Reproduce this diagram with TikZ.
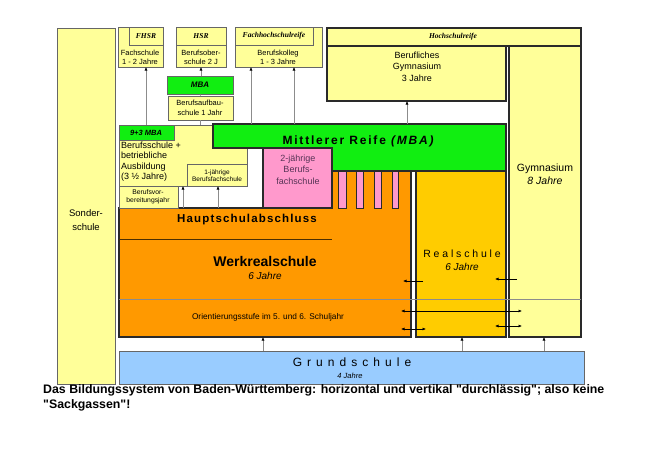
\documentclass[tikz,border=0pt]{standalone}
\usepackage{fontspec}
\setmainfont{Liberation Sans}
\newfontfamily\hdrfont{Liberation Serif}
\newfontfamily\capfont{Liberation Sans}[Ligatures=ResetAll]
\usetikzlibrary{arrows.meta}
\definecolor{lyel}{HTML}{FFFF99}
\definecolor{mgreen}{HTML}{11EE11}
\definecolor{mpink}{HTML}{FF99CC}
\definecolor{morange}{HTML}{FF9900}
\definecolor{rgold}{HTML}{FFCC00}
\definecolor{gblue}{HTML}{99CCFF}
\definecolor{bord}{HTML}{2A2A2A}
\definecolor{thinb}{HTML}{666666}
\definecolor{pinktext}{HTML}{553355}
\newcommand\mybox[6]{\node[#2, minimum width={#5-#3}, minimum height={#6-#4}] (#1) at (#3,#4) {};}
\begin{document}
\begin{tikzpicture}[x=1pt,y=-1pt,
  bx/.style={draw=thinb, line width=0.6pt, fill=lyel, inner sep=0pt, outer sep=0pt, anchor=north west},
  hbx/.style={bx, draw=bord, line width=1.1pt},
  inv/.style={inner sep=0pt, outer sep=0pt, anchor=north west},
  txt/.style={inner sep=0pt, align=center, text=black},
  garr/.style={draw=black!45, line width=0.6pt, -{Latex[length=3.5pt,width=3pt,color=black]}},
  harr/.style={draw=black, line width=0.6pt, -{Latex[length=3.5pt,width=3pt]}},
  darr/.style={draw=black, line width=0.6pt, {Latex[length=3.5pt,width=3pt]}-{Latex[length=3.5pt,width=3pt]}},
  hdr/.style={txt, font=\hdrfont\bfseries\itshape\fontsize{7.5}{9}\selectfont}
]
\useasboundingbox[fill=white] (0,0) rectangle (649,459);

% Sonderschule
\mybox{son}{bx}{57}{28}{115}{384}
% top boxes
\mybox{fhs}{bx}{118}{27}{163}{67}
\mybox{fhsh}{bx}{129}{27}{163}{45}
\mybox{hsr}{bx}{176}{27}{226}{67}
\mybox{hsrh}{bx}{176}{27}{226}{45}
\mybox{bk}{bx}{235}{27}{322}{67}
\mybox{bkh}{bx}{235}{27}{313}{45}
\mybox{mba}{bx, fill=mgreen}{167}{76}{233}{94}
\mybox{bas}{bx}{168}{96}{233}{120}
% Berufsschule
\mybox{bs}{bx}{119}{125}{247}{186}
\mybox{bsh}{bx, fill=mgreen}{119}{125}{174}{140}
% Mittlere Reife (green L shape)
\filldraw[fill=mgreen, draw=bord, line width=1.1pt] (213,124) -- (506,124) -- (506,171) -- (332,171) -- (332,148) -- (213,148) -- cycle;
\node[inv, minimum width=293, minimum height=47] (mr) at (213,124) {};
% Werkrealschule (orange)
\filldraw[fill=morange, draw=bord, line width=1.3pt] (119,208) -- (332,208) -- (332,171) -- (411,171) -- (411,337) -- (119,337) -- cycle;
\node[inv, minimum width=292, minimum height=129] (wrs) at (119,208) {};
% pink boxes
\mybox{bfs}{hbx, fill=mpink}{263}{148}{332}{208}
\mybox{pb1}{bx, draw=bord, fill=mpink}{338}{171}{346}{208}
\mybox{pb2}{bx, draw=bord, fill=mpink}{356}{171}{363}{208}
\mybox{pb3}{bx, draw=bord, fill=mpink}{374}{171}{381}{208}
\mybox{pb4}{bx, draw=bord, fill=mpink}{392}{171}{398}{208}
\draw[bord, line width=1.1pt] (332,171) -- (506,171);
% small boxes
\mybox{bvj}{bx}{119}{186}{178}{208}
\mybox{ebf}{bx}{187}{164}{247}{186}
% right side
\mybox{rs}{hbx, fill=rgold}{416}{171}{506}{337}
\mybox{hsrf}{hbx}{327}{28}{581}{46}
\mybox{bgym}{hbx}{327}{46}{506}{101}
\mybox{gym}{hbx}{509}{46}{581}{337}
% Grundschule
\mybox{gs}{bx, fill=gblue, draw=black!60}{119}{351}{584}{384}

% lines
\draw[black!70!morange, line width=1pt] (wrs.north west) ++(0,31) -- ++(213,0);
\draw[black!45, line width=0.5pt] (wrs.south west) ++(0,-38) coordinate (ol) -- (ol -| gym.east);
\draw[black!45, line width=0.6pt] (mba.south) -- (bas.north);
\draw[black!45, line width=0.6pt] (bas.south) -- (bas.south |- bs.north);

% vertical arrows
\draw[garr] ([xshift=27pt]bsh.north west) -- ([xshift=28pt]fhs.south west);
\draw[garr] ([xshift=34pt]mba.north west) -- ([xshift=25pt]hsr.south west);
\draw[garr] ([xshift=38pt]mr.north west) -- ([xshift=16pt]bk.south west);
\draw[garr] ([xshift=81pt]mr.north west) -- ([xshift=59pt]bk.south west);
\draw[garr] ([xshift=194pt]mr.north west) -- ([xshift=80pt]bgym.south west);
\draw[garr] ([xshift=64pt]wrs.north west) -- ([xshift=64pt]bs.south west);
\draw[garr] ([xshift=99pt]wrs.north west) -- ([xshift=31pt]ebf.south west);
\draw[garr] ([xshift=144pt]gs.north west) -- ([xshift=144pt]wrs.south west);
\draw[garr] ([xshift=343pt]gs.north west) -- ([xshift=46pt]rs.south west);
\draw[garr] ([xshift=425pt]gs.north west) -- ([xshift=35pt]gym.south west);

% horizontal arrows
\coordinate (a1s) at (423,281); \coordinate (a1e) at (403,281);
\coordinate (a2s) at (517,279); \coordinate (a2e) at (495,279);
\coordinate (a3s) at (401,311); \coordinate (a3e) at (522,311);
\coordinate (a4s) at (401,329); \coordinate (a4e) at (426,329);
\coordinate (a5s) at (495,326); \coordinate (a5e) at (522,326);
\draw[harr] (a1s) -- (a1e);
\draw[harr] (a2s) -- (a2e);
\draw[darr] (a3s) -- (a3e);
\draw[darr] (a4s) -- (a4e);
\draw[darr] (a5s) -- (a5e);

% texts
\node[hdr] (tfhsr) at (146,36) {FHSR};
\node[hdr] (thsr) at (201,36) {HSR};
\node[hdr] (tfhr) at (274,36) {Fachhochschulreife};
\node[hdr] (thr) at (453,37) {Hochschulreife};
\node[txt, font=\fontsize{7.5}{9}\selectfont] (tfs) at (140,57.5) {Fachschule\\1 - 2 Jahre};
\node[txt, font=\fontsize{7.5}{9}\selectfont] (tbos) at (201,57.5) {Berufsober-\\schule 2 J};
\node[txt, font=\fontsize{7.5}{9}\selectfont] (tbk) at (278,57.5) {Berufskolleg\\1 - 3 Jahre};
\node[txt, font=\bfseries\itshape\fontsize{8}{9}\selectfont] (tmba) at (200,85) {MBA};
\node[txt, font=\fontsize{7.5}{10}\selectfont] (tbas) at (200,107.5) {Berufsaufbau-\\schule 1 Jahr};
\node[txt, font=\bfseries\itshape\fontsize{7.5}{9}\selectfont] (t93) at (146,132.5) {9+3 MBA};
\node[txt, anchor=west, align=left, font=\fontsize{9}{10.5}\selectfont] (tbs) at (121,161.5) {Berufsschule +\\betriebliche\\Ausbildung\\(3 ½ Jahre)};
\node[txt, font=\fontsize{6.5}{7.5}\selectfont] (tebf) at (217,175.5) {1-jährige\\Berufsfachschule};
\node[txt, font=\fontsize{6.8}{8}\selectfont] (tbvj) at (148,197) {Berufsvor-\\bereitungsjahr};
\node[txt, text=pinktext, font=\fontsize{9}{11.5}\selectfont] (tbfs) at (298,169.5) {2-jährige\\Berufs-\\fachschule};
\node[txt, font=\bfseries\fontsize{12}{14}\selectfont\addfontfeature{LetterSpace=15}] (tmr) at (359,141) {Mittlerer Reife \textit{(MBA)}};
\node[txt, font=\bfseries\fontsize{11.5}{14}\selectfont\addfontfeature{LetterSpace=10}] (tha) at (247,220) {Hauptschulabschluss};
\node[txt, font=\bfseries\fontsize{14}{16}\selectfont] (twrs) at (265,261) {Werkrealschule};
\node[txt, font=\itshape\fontsize{10}{12}\selectfont] (twrs6) at (265,276) {6 Jahre};
\node[txt, font=\fontsize{8.3}{10}\selectfont] (tos) at (268,317) {Orientierungsstufe im 5. und 6. Schuljahr};
\node[txt, font=\fontsize{10.5}{12}\selectfont\addfontfeature{LetterSpace=27}] (trs) at (462,254) {Realschule};
\node[txt, font=\itshape\fontsize{10}{12}\selectfont] (trs6) at (462,267) {6 Jahre};
\node[txt, font=\fontsize{9}{11.5}\selectfont] (tbg) at (417,66.5) {Berufliches\\Gymnasium\\3 Jahre};
\node[txt, font=\fontsize{10.5}{13}\selectfont] (tgym) at (545,174.5) {Gymnasium\\\textit{8 Jahre}};
\node[txt, font=\fontsize{9.5}{13.5}\selectfont] (tson) at (86,220) {Sonder-\\schule};
\node[txt, font=\fontsize{12}{14}\selectfont\addfontfeature{LetterSpace=42}] (tgs) at (352,362) {Grundschule};
\node[txt, font=\itshape\fontsize{7.5}{9}\selectfont] (tgs4) at (350,376) {4 Jahre};
\node[txt, anchor=west, align=left, font=\capfont\bfseries\fontsize{12.35}{15}\selectfont] (tcap) at (43,397.5) {Das Bildungssystem von Baden-Württemberg: horizontal und vertikal "durchlässig"; also keine\\"Sackgassen"!};
\end{tikzpicture}
\end{document}
